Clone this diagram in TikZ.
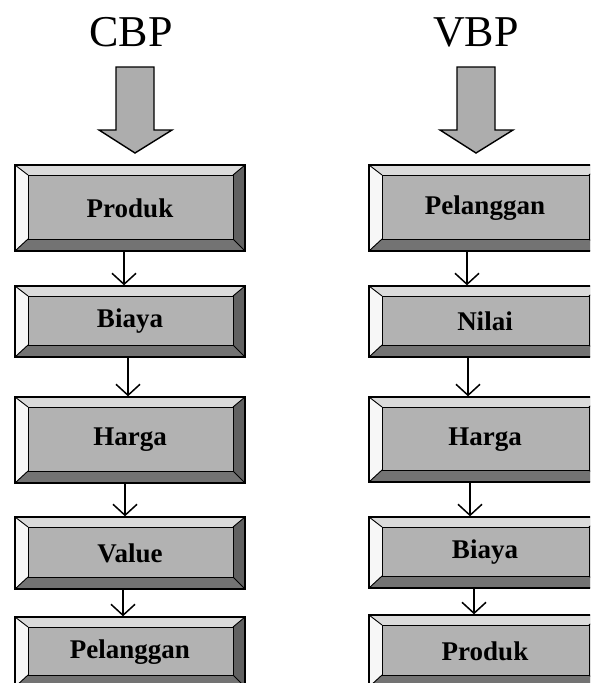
\documentclass[tikz,border=0pt]{standalone}
\usepackage{fontspec}
\setmainfont{Liberation Serif}
\usetikzlibrary{arrows.meta,calc}
\definecolor{facec}{gray}{0.70}
\definecolor{topc}{gray}{0.86}
\definecolor{leftc}{gray}{0.97}
\definecolor{rightc}{gray}{0.38}
\definecolor{botc}{gray}{0.45}
\definecolor{blockc}{gray}{0.68}
\tikzset{
  bevelbox/.style={draw, line width=1.4pt, fill=facec, minimum width=230pt,
    minimum height=#1, inner sep=0pt, font=\fontsize{27}{27}\selectfont\bfseries,
    path picture={
      \coordinate (A) at (path picture bounding box.north west);
      \coordinate (B) at (path picture bounding box.north east);
      \coordinate (C) at (path picture bounding box.south east);
      \coordinate (D) at (path picture bounding box.south west);
      \coordinate (a) at ($(A)+(13,10)$);
      \coordinate (b) at ($(B)+(-12,10)$);
      \coordinate (c) at ($(C)+(-12,-12)$);
      \coordinate (d) at ($(D)+(13,-12)$);
      \fill[topc] (A) -- (B) -- (b) -- (a) -- cycle;
      \fill[leftc] (A) -- (a) -- (d) -- (D) -- cycle;
      \fill[rightc] (B) -- (C) -- (c) -- (b) -- cycle;
      \fill[botc] (D) -- (d) -- (c) -- (C) -- cycle;
      \draw[line width=1pt] (a) rectangle (c);
      \draw[line width=0.9pt] (A) -- (a) (B) -- (b) (C) -- (c) (D) -- (d);
    }},
  rbox/.style={bevelbox=#1, minimum width=232pt},
  title/.style={font=\fontsize{44}{44}\selectfont, inner sep=0pt},
  conn/.style={line width=1.5pt, -{Straight Barb[length=11pt,width=24pt,line width=1.5pt]}},
  block/.style={draw, line width=1.4pt, fill=blockc, line join=miter}
}
\begin{document}
\begin{tikzpicture}[x=1pt,y=-1pt]
\useasboundingbox (0,0) rectangle (590,683);
\fill[white] (0,0) rectangle (590,683);
\clip (0,0) rectangle (590,683);

% titles
\node[title] (cbp) at (131,32) {CBP};
\node[title] (vbp) at (476,32) {VBP};

% block arrows
\draw[block] (116,67) -- (154,67) -- (154,130) -- (172,130) -- (135,153)
  -- (99,130) -- (116,130) -- cycle;
\draw[block] (457,67) -- (495,67) -- (495,130) -- (513,130) -- (476,153)
  -- (440,130) -- (457,130) -- cycle;

% left column (CBP)
\node[bevelbox=86pt] (l1) at (130,208) {Produk};
\node[bevelbox=71pt] (l2) at (130,321.5) {Biaya};
\node[bevelbox=86pt] (l3) at (130,440) {Harga};
\node[bevelbox=72pt] (l4) at (130,553) {Value};
\node[bevelbox=70pt] (l5) at (130,652) {Pelanggan};

% right column (VBP)
\node[rbox=86pt] (r1) at (485,208) {Pelanggan};
\node[rbox=71pt] (r2) at (485,321.5) {Nilai};
\node[rbox=85pt] (r3) at (485,439.5) {Harga};
\node[rbox=71pt] (r4) at (485,552.5) {Biaya};
\node[rbox=72pt] (r5) at (485,651) {Produk};

% connectors
\draw[conn] ([xshift=-6pt]l1.south) -- ([xshift=-6pt]l2.north);
\draw[conn] ([xshift=-2pt]l2.south) -- ([xshift=-2pt]l3.north);
\draw[conn] ([xshift=-5pt]l3.south) -- ([xshift=-5pt]l4.north);
\draw[conn] ([xshift=-7pt]l4.south) -- ([xshift=-7pt]l5.north);

\draw[conn] ([xshift=-18pt]r1.south) -- ([xshift=-18pt]r2.north);
\draw[conn] ([xshift=-17pt]r2.south) -- ([xshift=-17pt]r3.north);
\draw[conn] ([xshift=-15pt]r3.south) -- ([xshift=-15pt]r4.north);
\draw[conn] ([xshift=-11pt]r4.south) -- ([xshift=-11pt]r5.north);
\end{tikzpicture}
\end{document}
